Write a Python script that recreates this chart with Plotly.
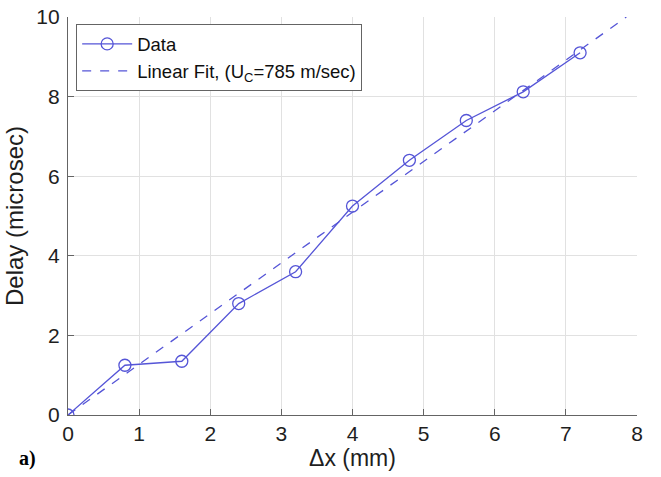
import plotly.graph_objects as go

dx_mm = [0, 0.8, 1.6, 2.4, 3.2, 4.0, 4.8, 5.6, 6.4, 7.2]
delay_us = [0, 1.25, 1.35, 2.8, 3.6, 5.25, 6.4, 7.4, 8.12, 9.1]
uc_m_per_s = 785
fit_x = [0, 7.85]
fit_y = [x * 1000.0 / uc_m_per_s for x in fit_x]

blue = "rgb(85,85,215)"
txt = "rgb(30,30,30)"
font_family = "Liberation Sans, Arial"

fig = go.Figure()
fig.add_trace(go.Scatter(x=dx_mm, y=delay_us, mode="lines+markers", name="Data",
                         line=dict(color=blue, width=1.3),
                         marker=dict(symbol="circle-open", size=12, color=blue, line=dict(width=1.3))))
fig.add_trace(go.Scatter(x=fit_x, y=fit_y, mode="lines",
                         name="Linear Fit, (U<sub>C</sub>=785 m/sec)",
                         line=dict(color=blue, width=1.3, dash="dash")))

axis_common = dict(showgrid=True, gridcolor="rgb(225,225,225)", gridwidth=1,
                   showline=True, linecolor="rgb(100,100,100)", linewidth=1.3,
                   ticks="inside", ticklen=6, tickcolor="rgb(100,100,100)",
                   zeroline=False, automargin=False,
                   tickfont=dict(family=font_family, size=21, color=txt))
fig.update_xaxes(range=[0, 8], dtick=1, ticklabelstandoff=0,
                 title=dict(text="Δx (mm)", standoff=4,
                            font=dict(family=font_family, size=23, color=txt)), **axis_common)
fig.update_yaxes(range=[0, 10], dtick=2, ticklabelstandoff=3,
                 title=dict(text="Delay (microsec)", standoff=5,
                            font=dict(family=font_family, size=24, color=txt)), **axis_common)

fig.update_layout(
    width=661, height=477, margin=dict(l=68, r=24, t=17, b=62, autoexpand=False),
    plot_bgcolor="white", paper_bgcolor="white",
    showlegend=True,
    legend=dict(x=0.014, y=0.982, xanchor="left", yanchor="top",
                bgcolor="white", bordercolor="rgb(100,100,100)", borderwidth=1.2,
                font=dict(family=font_family, size=18.5, color="rgb(15,15,15)"),
                tracegroupgap=0, itemwidth=50),
    annotations=[dict(text="<b>a)</b>", xref="paper", yref="paper", x=-0.09, y=-0.11,
                      xanchor="left", yanchor="middle", showarrow=False,
                      font=dict(family="Liberation Serif, Times New Roman", size=20, color="black"))],
)
fig.write_html("out.html")
